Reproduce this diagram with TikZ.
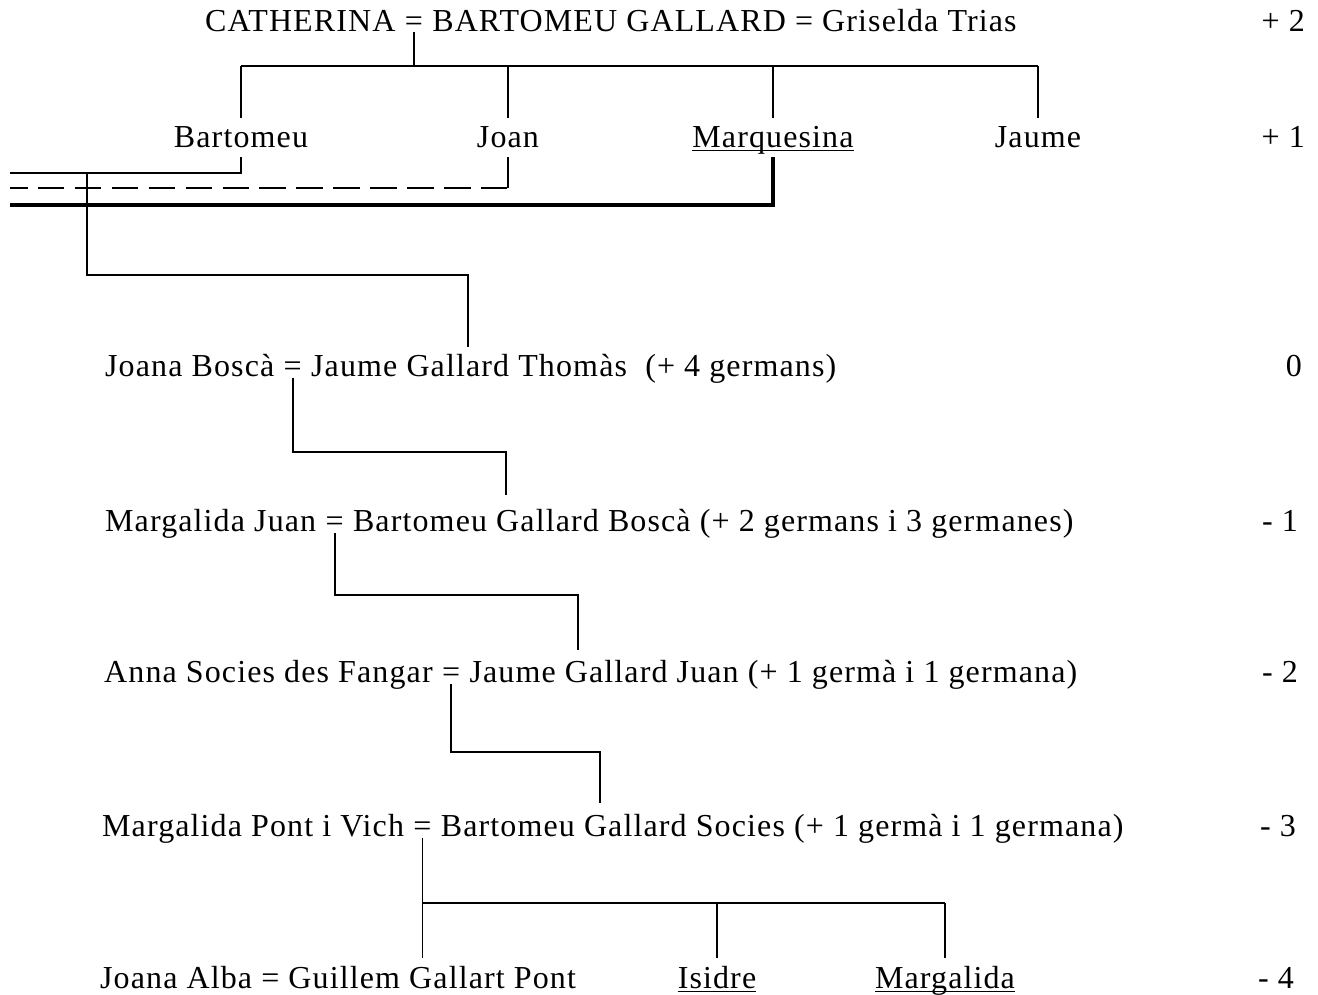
\documentclass[tikz,border=0pt]{standalone}
\usepackage{fontspec}
\setmainfont{Liberation Serif}[LetterSpace=3.5]
\usetikzlibrary{positioning}
\newcommand\undl[1]{\setbox0\hbox{#1}\rlap{\rule[-4pt]{\wd0}{1.5pt}}\box0}
\tikzset{
  every node/.style={font=\fontsize{32}{36}\selectfont,inner sep=0pt},
  person/.style={anchor=base west},
  kid/.style={anchor=base},
  gen/.style={anchor=base east},
  kin/.style={line width=1.8pt},
  kinbold/.style={line width=4pt},
  kindash/.style={line width=1.8pt,dash pattern=on 26.5pt off 10.42pt,dash phase=9pt},
}
\begin{document}
\begin{tikzpicture}[x=1pt,y=-1pt]
  \useasboundingbox (0,0) rectangle (1318,994);

  \node[person] (cat) at (205,31) {CATHERINA};
  \node[person,base right=9pt of cat] (eqA) {=};
  \node[person,base right=9pt of eqA] (bg) {BARTOMEU GALLARD = Griselda Trias};

  \node[kid] (bart) at (241,147) {Bartomeu};
  \node[kid] (joan) at (508,147) {Joan};
  \node[kid] (marq) at (773,147) {\undl{Marquesina}};
  \node[kid] (jaume) at (1038,147) {Jaume};

  \coordinate (bar) at (0,66);
  \draw[kin] ([yshift=-1pt]eqA.south) -- (eqA |- bar);
  \draw[kin] (bart |- bar) -- (jaume |- bar);
  \foreach \k in {bart,joan,marq,jaume}
    \draw[kin] (\k |- bar) -- ([yshift=8pt]\k.north);

  \coordinate (l1) at (10,173);
  \coordinate (l2) at (10,188);
  \coordinate (l3) at (10,205);
  \coordinate (jd) at ([yshift=-10pt]joan.base);
  \draw[kin] (l1) -| ([yshift=-10pt]bart.base);
  \draw[kindash] (l2) -- (l2 -| jd);
  \draw[kin] (l2 -| jd) -- (jd);
  \draw[kinbold] (l3) -| ([yshift=-10pt]marq.base);

  \node[person] (jb) at (105,376) {Joana Boscà};
  \node[person,base right=9pt of jb] (eq0) {=};
  \node[person,base right=9pt of eq0] (jgt) {Jaume Gallard Thomàs\ \ (+ 4 germans)};

  \coordinate (from0) at (87,173);
  \coordinate (in0) at (468,347);
  \draw[kin] (from0) -- ++(0,102) -| (in0);

  \node[person] (mj) at (105,531) {Margalida Juan};
  \node[person,base right=9pt of mj] (eq1) {=};
  \node[person,base right=9pt of eq1] (bgb) {Bartomeu Gallard Boscà (+ 2 germans i 3 germanes)};

  \coordinate (in1) at (506,495);
  \draw[kin] ([yshift=-2pt]eq0.south) -- ++(0,74) -| (in1);

  \node[person] (asf) at (104,682) {Anna Socies des Fangar};
  \node[person,base right=9pt of asf] (eq2) {=};
  \node[person,base right=9pt of eq2] (jgj) {Jaume Gallard Juan (+ 1 germà i 1 germana)};

  \coordinate (in2) at (578,650);
  \draw[kin] ([yshift=-2pt]eq1.south) -- ++(0,62) -| (in2);

  \node[person] (mpv) at (102,836) {Margalida Pont i Vich};
  \node[person,base right=9pt of mpv] (eq3) {=};
  \node[person,base right=9pt of eq3] (bgs) {Bartomeu Gallard Socies (+ 1 germà i 1 germana)};

  \coordinate (in3) at (600,803);
  \draw[kin] ([yshift=-2pt]eq2.south) -- ++(0,68) -| (in3);

  \node[person] (ggp) at (100,988) {Joana Alba = Guillem Gallart Pont};
  \node[kid] (isidre) at (717,988) {\undl{Isidre}};
  \node[kid] (marg) at (945,988) {\undl{Margalida}};

  \coordinate (bar3) at (0,903);
  \coordinate (foot) at (0,958);
  \draw[kin] ([yshift=-2pt]eq3.south) -- (eq3 |- foot);
  \draw[kin] (eq3 |- bar3) -- (marg |- bar3);
  \draw[kin] (isidre |- bar3) -- (isidre |- foot);
  \draw[kin] (marg |- bar3) -- (marg |- foot);

  \node[gen] (g2) at (1305,31) {+ 2};
  \node[gen] (g1) at (1305,147) {+ 1};
  \node[gen] (g0) at (1302,376) {0};
  \node[gen] (gm1) at (1298,531) {- 1};
  \node[gen] (gm2) at (1298,682) {- 2};
  \node[gen] (gm3) at (1296,836) {- 3};
  \node[gen] (gm4) at (1294,988) {- 4};
\end{tikzpicture}
\end{document}
